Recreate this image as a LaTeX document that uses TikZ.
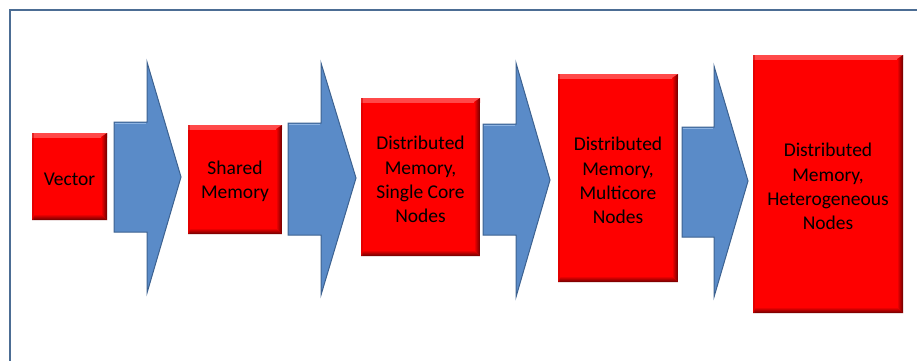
\documentclass[tikz,border=0pt]{standalone}
\usepackage{fontspec}
\setmainfont{Carlito}
\definecolor{boxred}{HTML}{FE0000}
\definecolor{boxdark}{HTML}{6A0000}
\definecolor{boxlight}{HTML}{FF4A4A}
\definecolor{arrowblue}{HTML}{5A8BC8}
\definecolor{arrowedge}{HTML}{3D6290}
\definecolor{arrowlight}{HTML}{8DB3E2}
\definecolor{framecol}{HTML}{4C6D94}
\tikzset{
  redbox/.style={rectangle, fill=boxred, inner sep=0pt,
    path picture={
      \shade[top color=boxlight, bottom color=boxred]
        (path picture bounding box.north west) rectangle
        ([yshift=-4pt]path picture bounding box.north east);
      \shade[top color=boxred, bottom color=boxdark]
        (path picture bounding box.south west) --
        (path picture bounding box.south east) --
        ([xshift=-6pt,yshift=6pt]path picture bounding box.south east) --
        ([xshift=3pt,yshift=6pt]path picture bounding box.south west) -- cycle;
      \shade[left color=boxred, right color=boxdark]
        (path picture bounding box.north east) --
        (path picture bounding box.south east) --
        ([xshift=-6pt,yshift=6pt]path picture bounding box.south east) --
        ([xshift=-6pt,yshift=-4pt]path picture bounding box.north east) -- cycle;
      \fill[boxred!80!black, opacity=0.5]
        (path picture bounding box.north west) rectangle
        ([xshift=1.5pt]path picture bounding box.south west);
    }},
  boxtext/.style={inner sep=0pt, align=center, text=black,
    font=\fontsize{19.5}{24.3}\selectfont},
  blockarrow/.style={fill=arrowblue, draw=arrowedge, line width=1pt, line join=miter},
  framestyle/.style={draw=framecol, line width=2.5pt}
}
\begin{document}
\begin{tikzpicture}[x=1pt,y=-1pt]
\useasboundingbox (0,0) rectangle (917,360);
% frame
\coordinate (fbl) at (10,362);
\coordinate (ftl) at (10,10);
\coordinate (ftr) at (919,10);
\draw[framestyle] (fbl) -- (ftl) -- (ftr);
% boxes
\node[redbox, minimum width=75pt, minimum height=87pt] (b1) at (69.5,176.5) {};
\node[redbox, minimum width=94pt, minimum height=109pt] (b2) at (235,179.5) {};
\node[redbox, minimum width=119pt, minimum height=158pt] (b3) at (420.5,177) {};
\node[redbox, minimum width=120pt, minimum height=208pt] (b4) at (618,178) {};
\node[redbox, minimum width=150pt, minimum height=258pt] (b5) at (828,184) {};
% texts
\node[boxtext] (t1) at ([yshift=-3pt]b1.center) {Vector};
\node[boxtext] (t2) at ([yshift=-2pt]b2.center) {Shared\\Memory};
\node[boxtext] (t3) at ([yshift=-2.5pt]b3.center) {Distributed\\Memory,\\Single Core\\Nodes};
\node[boxtext] (t4) at ([yshift=-2.5pt]b4.center) {Distributed\\Memory,\\Multicore\\Nodes};
\node[boxtext] (t5) at ([yshift=-2.5pt]b5.center) {Distributed\\Memory,\\Heterogeneous\\Nodes};
% block arrows
\draw[blockarrow] (114,122) -- (147,122) -- (147,62) -- (181,177) -- (147,293) -- (147,232) -- (114,232) -- cycle;
\draw[blockarrow] (288,123) -- (321,123) -- (321,63) -- (356,178) -- (321,295) -- (321,235) -- (288,235) -- cycle;
\draw[blockarrow] (483,124) -- (516,124) -- (516,63) -- (550,180) -- (516,297) -- (516,235) -- (483,235) -- cycle;
\draw[blockarrow] (682,127) -- (714,127) -- (714,66) -- (748,181) -- (714,297) -- (714,237) -- (682,237) -- cycle;
% highlights on arrow bodies
\foreach \xa/\xb/\yy in {115/146/123.5, 289/320/124.5, 484/515/125.5, 683/713/128.5}
  \draw[arrowlight, line width=1.5pt] (\xa,\yy) -- (\xb,\yy);
\end{tikzpicture}
\end{document}
